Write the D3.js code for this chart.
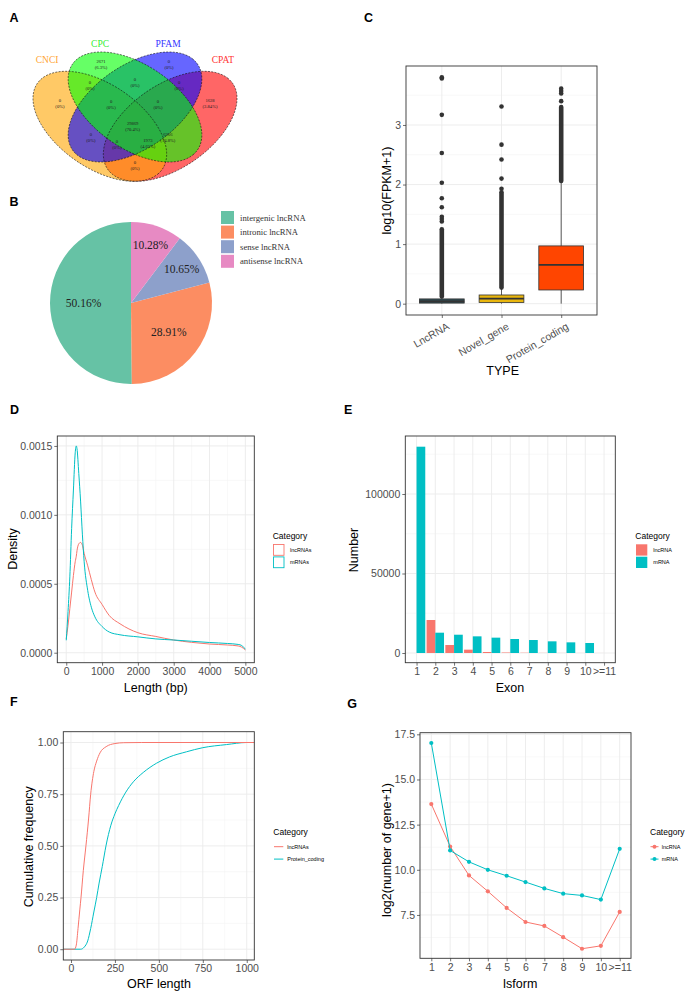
<!DOCTYPE html>
<html><head><meta charset="utf-8">
<script src="https://cdn.jsdelivr.net/npm/d3@7"></script>
<style>body{margin:0;background:#fff}svg{display:block}</style>
</head><body>
<svg id="fig" width="687" height="991"></svg>
<script>
// ================= DATA =================
// A: Venn
const vennSets = ["CNCI", "CPC", "PFAM", "CPAT"];
const vennRegionKeys = ["CPC", "PFAM", "CNCI&CPC", "CPC&PFAM", "PFAM&CPAT", "CNCI", "CNCI&CPC&PFAM", "CPC&PFAM&CPAT", "CPAT", "ALL", "CNCI&PFAM", "CNCI&PFAM&CPAT", "CNCI&CPC&CPAT", "CPC&CPAT", "CNCI&CPAT"];
const vennCounts = [2671, 0, 0, 0, 0, 0, 0, 0, 1628, 29869, 0, 0, 1973, 6266, 0];
const vennPercents = ["6.3%", "0%", "0%", "0%", "0%", "0%", "0%", "0%", "3.84%", "70.4%", "0%", "0%", "4.65%", "14.8%", "0%"];

// B: Pie
const pieCategories = ["intergenic lncRNA", "intronic lncRNA", "sense lncRNA", "antisense lncRNA"];
const pieValues = [50.16, 28.91, 10.65, 10.28];

// C: Boxplot
const boxCategories = ["LncRNA", "Novel_gene", "Protein_coding"];
const boxLowerWhisker = [0, 0, 0];
const boxQ1 = [0.01, 0.02, 0.23];
const boxMedian = [0.04, 0.084, 0.65];
const boxQ3 = [0.08, 0.146, 0.97];
const boxUpperWhisker = [0.12, 0.26, 2.06];
const denseOutlierLow = [0.12, 0.27, 2.06];
const denseOutlierHigh = [1.25, 1.87, 3.30];
const outliersLncRNA = [1.38, 1.42, 1.46, 1.62, 1.77, 2.03, 2.53, 3.17, 3.78, 3.80];
const outliersNovel = [1.93, 2.10, 2.42, 2.67, 3.31];
const outliersProtein = [3.40, 3.53, 3.57, 3.61];

// D: Density of length
const densityLength = [0, 50, 100, 150, 200, 250, 280, 300, 350, 400, 450, 500, 600, 700, 800, 1000, 1200, 1500, 2000, 2500, 3000, 3500, 4000, 4500, 4800, 4900, 5000];
const densityLnc = [0.0001, 0.0002, 0.00032, 0.00044, 0.00056, 0.00066, 0.0007, 0.00074, 0.00079, 0.0008, 0.00078, 0.00072, 0.00063, 0.00053, 0.00044, 0.00035, 0.00027, 0.00021, 0.000145, 0.000118, 0.000092, 0.000075, 0.000063, 0.000056, 0.000049, 0.00004, 0.00002];
const densityMrna = [0.00009, 0.0003, 0.00055, 0.0009, 0.00118, 0.00145, 0.0015, 0.00148, 0.0013, 0.0011, 0.00086, 0.00066, 0.00045, 0.00033, 0.00026, 0.00019, 0.00015, 0.00013, 0.000115, 0.0001, 0.000092, 0.000083, 0.000074, 0.000067, 0.00006, 0.000052, 0.000025];
const densitySeries = ["lncRNAs", "mRNAs"];

// E: Exon numbers
const exonCategories = ["1", "2", "3", "4", "5", "6", "7", "8", "9", "10", ">=11"];
const exonLnc = [0, 20750, 5030, 2100, 630, 300, 150, 60, 30, 20, 10];
const exonMrna = [129750, 12770, 11500, 10480, 9650, 8800, 8170, 7340, 6700, 6290, 0];
const exonSeries = ["lncRNA", "mRNA"];

// F: ECDF of ORF length
const ecdfLncX = [-44, 20, 30, 40, 50, 57, 70, 85, 100, 112, 130, 146, 165, 200, 250, 300, 400, 1043];
const ecdfLncY = [0, 0, 0.02, 0.1, 0.19, 0.25, 0.38, 0.5, 0.63, 0.75, 0.86, 0.91, 0.95, 0.98, 0.995, 0.999, 1, 1];
const ecdfProtX = [-44, 55, 75, 95, 112, 130, 146, 160, 178, 199, 227, 250, 271, 312, 355, 411, 487, 560, 657, 750, 885, 1000, 1043];
const ecdfProtY = [0, 0, 0.01, 0.04, 0.1, 0.18, 0.25, 0.32, 0.4, 0.5, 0.6, 0.655, 0.695, 0.76, 0.81, 0.855, 0.9, 0.93, 0.955, 0.975, 0.99, 1, 1];
const ecdfSeries = ["lncRNAs", "Protein_coding"];

// G: Isoforms
const isoCategories = ["1", "2", "3", "4", "5", "6", "7", "8", "9", "10", ">=11"];
const isoLnc = [13.64, 11.29, 9.69, 8.81, 7.89, 7.11, 6.89, 6.27, 5.63, 5.79, 7.67];
const isoMrna = [17.02, 11.07, 10.44, 10.0, 9.67, 9.32, 8.97, 8.68, 8.58, 8.35, 11.16];
const isoSeries = ["lncRNA", "mRNA"];

// ================= STYLE =================
const svg = d3.select("#fig");
const SANS = "'Liberation Sans', Arial, Helvetica, sans-serif";
const SERIF = "'Liberation Serif', 'Times New Roman', Times, serif";
const GRID_MAJOR = "#EBEBEB", GRID_MINOR = "#F4F4F4", BORDER = "#333333", TICKTXT = "#4D4D4D";
const RED = "#F8766D", TEAL = "#00BFC4";
let clipN = 0;

function label(txt, x, y) {
  svg.append("text").attr("x", x).attr("y", y).text(txt)
    .style("font-family", SANS).style("font-weight", "bold").style("font-size", "12.5px");
}
function title(txt, x, y, rot) {
  const t = svg.append("text").text(txt).attr("text-anchor", "middle")
    .style("font-family", SANS).style("font-size", "12.5px").attr("fill", "#000");
  if (rot) t.attr("transform", `translate(${x},${y}) rotate(-90)`);
  else t.attr("x", x).attr("y", y);
  return t;
}
function makePanel(box, xs, ys, o) {
  const g = svg.append("g");
  g.append("rect").attr("x", box.x0).attr("y", box.y0).attr("width", box.x1 - box.x0).attr("height", box.y1 - box.y0).attr("fill", "#fff");
  const vline = (v, c, w) => g.append("line").attr("x1", xs(v)).attr("x2", xs(v)).attr("y1", box.y0).attr("y2", box.y1).attr("stroke", c).attr("stroke-width", w);
  const hline = (v, c, w) => g.append("line").attr("y1", ys(v)).attr("y2", ys(v)).attr("x1", box.x0).attr("x2", box.x1).attr("stroke", c).attr("stroke-width", w);
  (o.xMinor || []).forEach(v => vline(v, GRID_MINOR, 0.6));
  (o.yMinor || []).forEach(v => hline(v, GRID_MINOR, 0.6));
  (o.xMajor || []).forEach(v => vline(v, GRID_MAJOR, 0.9));
  (o.yMajor || []).forEach(v => hline(v, GRID_MAJOR, 0.9));
  const id = "clip" + (clipN++);
  svg.append("defs").append("clipPath").attr("id", id).append("rect")
    .attr("x", box.x0).attr("y", box.y0).attr("width", box.x1 - box.x0).attr("height", box.y1 - box.y0);
  const content = g.append("g").attr("clip-path", `url(#${id})`);
  return { g, content };
}
function styleAxis(ax) {
  ax.select(".domain").remove();
  ax.selectAll(".tick line").attr("stroke", BORDER).attr("stroke-width", 0.7);
  ax.selectAll(".tick text").attr("fill", TICKTXT).style("font-family", SANS).style("font-size", "10.5px");
}
function finishPanel(g, box, xs, ys, o) {
  g.append("rect").attr("x", box.x0).attr("y", box.y0).attr("width", box.x1 - box.x0).attr("height", box.y1 - box.y0)
    .attr("fill", "none").attr("stroke", BORDER).attr("stroke-width", 0.9);
  const xa = d3.axisBottom(xs).tickSize(3).tickPadding(2);
  if (o.xTicks) xa.tickValues(o.xTicks);
  if (o.xFmt) xa.tickFormat(o.xFmt);
  const ax = g.append("g").attr("transform", `translate(0,${box.y1})`).call(xa);
  styleAxis(ax);
  const ya = d3.axisLeft(ys).tickSize(3).tickPadding(2);
  if (o.yTicks) ya.tickValues(o.yTicks);
  if (o.yFmt) ya.tickFormat(o.yFmt);
  const ay = g.append("g").attr("transform", `translate(${box.x0},0)`).call(ya);
  styleAxis(ay);
  return { ax, ay };
}
function legendTitle(x, y) {
  svg.append("text").attr("x", x).attr("y", y).text("Category")
    .style("font-family", SANS).style("font-size", "8.5px").attr("fill", "#000");
}
function legendLabel(txt, x, y) {
  svg.append("text").attr("x", x).attr("y", y).attr("dy", "0.35em").text(txt)
    .style("font-family", SANS).style("font-size", "5.5px").attr("fill", "#000");
}

// ================= A: VENN =================
label("A", 9.5, 22);
{
  const vx = u => 135 + (u - 0.5) * 234.5;
  const vy = v => 107 - (v - 0.57) * 193;
  const ell = [
    { cx: 0.35, cy: 0.47, rot: -45, color: "orange", txt: "#FFA533", lab: [0.125, 0.813] },
    { cx: 0.5, cy: 0.57, rot: -45, color: "#00FF00", txt: "#33EE33", lab: [0.351, 0.9] },
    { cx: 0.5, cy: 0.57, rot: 45, color: "blue", txt: "#3333FF", lab: [0.641, 0.9] },
    { cx: 0.65, cy: 0.47, rot: 45, color: "red", txt: "#FF3333", lab: [0.875, 0.813] }
  ];
  const ellPts = e => {
    const pts = [], r = e.rot * Math.PI / 180;
    for (let i = 0; i <= 160; i++) {
      const t = i / 160 * 2 * Math.PI, ex = 0.35 * Math.cos(t), ey = 0.2 * Math.sin(t);
      pts.push([vx(e.cx + ex * Math.cos(r) - ey * Math.sin(r)), vy(e.cy + ex * Math.sin(r) + ey * Math.cos(r))]);
    }
    return pts;
  };
  const line = d3.line();
  const gA = svg.append("g");
  [3, 0, 2, 1].forEach(i => gA.append("path").attr("d", line(ellPts(ell[i])) + "Z")
    .attr("fill", ell[i].color).attr("fill-opacity", 0.6).attr("stroke", "none"));
  ell.forEach(e => gA.append("path").attr("d", line(ellPts(e)) + "Z")
    .attr("fill", "none").attr("stroke", "#111").attr("stroke-width", 0.6).attr("stroke-dasharray", "2,1.3"));
  ell.forEach((e, i) => gA.append("text").attr("x", vx(e.lab[0])).attr("y", vy(e.lab[1])).attr("dy", "0.35em")
    .attr("text-anchor", "middle").text(vennSets[i]).attr("fill", e.txt)
    .style("font-family", SERIF).style("font-size", "9.5px"));
  const regionPos = {
    "CPC": [0.355, 0.793], "PFAM": [0.645, 0.793], "CNCI&CPC": [0.308, 0.684], "CPC&PFAM": [0.5, 0.70],
    "PFAM&CPAT": [0.688, 0.684], "CNCI": [0.18, 0.59], "CNCI&CPC&PFAM": [0.398, 0.586], "CPC&PFAM&CPAT": [0.598, 0.586],
    "CPAT": [0.82, 0.59], "ALL": [0.49, 0.47], "CNCI&PFAM": [0.312, 0.415], "CNCI&PFAM&CPAT": [0.423, 0.378],
    "CNCI&CPC&CPAT": [0.555, 0.383], "CPC&CPAT": [0.64, 0.415], "CNCI&CPAT": [0.5, 0.27]
  };
  vennRegionKeys.forEach((k, i) => {
    const p = regionPos[k];
    const t = gA.append("text").attr("text-anchor", "middle").style("font-family", SERIF).style("font-size", "4.6px").attr("fill", "#222");
    t.append("tspan").attr("x", vx(p[0])).attr("y", vy(p[1]) - 1.2).text(vennCounts[i]);
    t.append("tspan").attr("x", vx(p[0])).attr("y", vy(p[1]) + 4.8).text("(" + vennPercents[i] + ")");
  });
}

// ================= B: PIE =================
label("B", 9.5, 205.5);
{
  const pieColors = ["#66C2A5", "#FC8D62", "#8DA0CB", "#E78AC3"];
  const cx = 131, cy = 303, R = 81;
  const g = svg.append("g").attr("transform", `translate(${cx},${cy})`);
  const arcs = d3.pie().sort(null).startAngle(0).endAngle(-2 * Math.PI)(pieValues);
  const arc = d3.arc().innerRadius(0).outerRadius(R);
  g.selectAll("path").data(arcs).join("path").attr("d", arc).attr("fill", (d, i) => pieColors[i]);
  arcs.forEach((a, i) => {
    const lr = a.data > 20 ? 47.5 : 61;
    const c = d3.arc().innerRadius(lr).outerRadius(lr).centroid(a);
    g.append("text").attr("x", c[0]).attr("y", c[1]).attr("dy", "0.35em").attr("text-anchor", "middle")
      .text(pieValues[i].toFixed(2) + "%").style("font-family", SERIF).style("font-size", "11.5px").attr("fill", "#222");
  });
  pieCategories.forEach((c, i) => {
    const y = 211 + i * 14.6;
    svg.append("rect").attr("x", 221).attr("y", y).attr("width", 13).attr("height", 13).attr("fill", pieColors[i]);
    svg.append("text").attr("x", 240).attr("y", y + 6.5).attr("dy", "0.35em").text(c)
      .style("font-family", SERIF).style("font-size", "8.7px").attr("fill", "#333");
  });
}

// ================= C: BOXPLOT =================
label("C", 364, 21.7);
{
  const box = { x0: 406, y0: 66, x1: 597, y1: 315 };
  const xs = d3.scalePoint().domain(boxCategories).range([box.x0, box.x1]).padding(0.6);
  const ys = d3.scaleLinear().domain([-0.19, 3.99]).range([box.y1, box.y0]);
  const { g, content } = makePanel(box, xs, ys, { xMajor: boxCategories, yMajor: [0, 1, 2, 3], yMinor: [0.5, 1.5, 2.5, 3.5] });
  const fills = ["#2F4B52", "#E9B60E", "#FF4500"];
  const bw = xs.step() * 0.75;
  const outl = [outliersLncRNA, outliersNovel, outliersProtein];
  boxCategories.forEach((c, i) => {
    const x = xs(c);
    content.append("line").attr("x1", x).attr("x2", x).attr("y1", ys(boxUpperWhisker[i])).attr("y2", ys(boxQ3[i])).attr("stroke", BORDER).attr("stroke-width", 0.8);
    content.append("line").attr("x1", x).attr("x2", x).attr("y1", ys(boxLowerWhisker[i])).attr("y2", ys(boxQ1[i])).attr("stroke", BORDER).attr("stroke-width", 0.8);
    content.append("line").attr("x1", x).attr("x2", x).attr("y1", ys(denseOutlierLow[i])).attr("y2", ys(denseOutlierHigh[i]))
      .attr("stroke", "#333").attr("stroke-width", 4.6).attr("stroke-linecap", "round");
    outl[i].forEach(v => content.append("circle").attr("cx", x).attr("cy", ys(v)).attr("r", 2.3).attr("fill", "#333"));
    content.append("rect").attr("x", x - bw / 2).attr("width", bw).attr("y", ys(boxQ3[i])).attr("height", Math.max(ys(boxQ1[i]) - ys(boxQ3[i]), 1))
      .attr("fill", fills[i]).attr("stroke", BORDER).attr("stroke-width", 0.8);
    content.append("line").attr("x1", x - bw / 2).attr("x2", x + bw / 2).attr("y1", ys(boxMedian[i])).attr("y2", ys(boxMedian[i]))
      .attr("stroke", BORDER).attr("stroke-width", 1.7);
  });
  const { ax } = finishPanel(g, box, xs, ys, { yTicks: [0, 1, 2, 3], yFmt: d3.format("d") });
  ax.selectAll(".tick text").attr("x", 0).attr("y", 0).attr("dy", "0.71em").attr("text-anchor", "end")
    .attr("transform", "translate(4,7) rotate(-30)");
  title("log10(FPKM+1)", 390.5, 190.5, true);
  title("TYPE", 502.7, 374.5);
}

// ================= D: DENSITY =================
label("D", 10, 414);
{
  const box = { x0: 57.3, y0: 436, x1: 254.3, y1: 662.7 };
  const xs = d3.scaleLinear().domain([-250, 5250]).range([box.x0, box.x1]);
  const ys = d3.scaleLinear().domain([-0.0000725, 0.001572]).range([box.y1, box.y0]);
  const { g, content } = makePanel(box, xs, ys, {
    xMajor: [0, 1000, 2000, 3000, 4000, 5000], xMinor: [500, 1500, 2500, 3500, 4500],
    yMajor: [0, 0.0005, 0.001, 0.0015], yMinor: [0.00025, 0.00075, 0.00125]
  });
  const ln = arr => d3.line().x((d, i) => xs(densityLength[i])).y((d, i) => ys(arr[i])).curve(d3.curveMonotoneX)(arr);
  content.append("path").attr("d", ln(densityLnc)).attr("fill", "none").attr("stroke", RED).attr("stroke-width", 1);
  content.append("path").attr("d", ln(densityMrna)).attr("fill", "none").attr("stroke", TEAL).attr("stroke-width", 1);
  finishPanel(g, box, xs, ys, { xTicks: [0, 1000, 2000, 3000, 4000, 5000], xFmt: d3.format("d"), yTicks: [0, 0.0005, 0.001, 0.0015], yFmt: d3.format(".4f") });
  title("Density", 16.5, 549, true);
  title("Length (bp)", 155.8, 691.5);
  legendTitle(272.7, 538.5);
  [RED, TEAL].forEach((c, i) => {
    svg.append("rect").attr("x", 273.5).attr("y", 544.5 + i * 12.4).attr("width", 10.5).attr("height", 10.8)
      .attr("fill", "#fff").attr("stroke", c).attr("stroke-width", 0.9);
    legendLabel(densitySeries[i], 290, 550 + i * 12.4);
  });
}

// ================= E: EXON BARS =================
label("E", 344, 414);
{
  const box = { x0: 405.3, y0: 436, x1: 615.3, y1: 662.7 };
  const xs = d3.scalePoint().domain(exonCategories).range([box.x0, box.x1]).padding(0.6);
  const ys = d3.scaleLinear().domain([-6100, 136480]).range([box.y1, box.y0]);
  const { g, content } = makePanel(box, xs, ys, { xMajor: exonCategories, yMajor: [0, 50000, 100000], yMinor: [25000, 75000, 125000] });
  const w = xs.step() * 0.465;
  exonCategories.forEach((c, i) => {
    content.append("rect").attr("x", xs(c) - w).attr("width", w).attr("y", ys(exonLnc[i])).attr("height", ys(0) - ys(exonLnc[i])).attr("fill", RED);
    content.append("rect").attr("x", xs(c)).attr("width", w).attr("y", ys(exonMrna[i])).attr("height", ys(0) - ys(exonMrna[i])).attr("fill", TEAL);
  });
  finishPanel(g, box, xs, ys, { yTicks: [0, 50000, 100000], yFmt: d3.format("d") });
  title("Number", 357.5, 550, true);
  title("Exon", 510, 691.5);
  legendTitle(635.3, 538.5);
  [RED, TEAL].forEach((c, i) => {
    svg.append("rect").attr("x", 636).attr("y", 544.3 + i * 12.4).attr("width", 11.3).attr("height", 11.3).attr("fill", c);
    legendLabel(exonSeries[i], 653.3, 550 + i * 12.4);
  });
}

// ================= F: ECDF =================
label("F", 10, 706);
{
  const box = { x0: 63.3, y0: 731.7, x1: 254.3, y1: 960 };
  const xs = d3.scaleLinear().domain([-43.8, 1043]).range([box.x0, box.x1]);
  const ys = d3.scaleLinear().domain([-0.0522, 1.0523]).range([box.y1, box.y0]);
  const { g, content } = makePanel(box, xs, ys, {
    xMajor: [0, 250, 500, 750, 1000], xMinor: [125, 375, 625, 875],
    yMajor: [0, 0.25, 0.5, 0.75, 1], yMinor: [0.125, 0.375, 0.625, 0.875]
  });
  const ln = (X, Y) => d3.line().x((d, i) => xs(X[i])).y((d, i) => ys(Y[i])).curve(d3.curveMonotoneX)(Y);
  content.append("path").attr("d", ln(ecdfProtX, ecdfProtY)).attr("fill", "none").attr("stroke", TEAL).attr("stroke-width", 1);
  content.append("path").attr("d", ln(ecdfLncX, ecdfLncY)).attr("fill", "none").attr("stroke", RED).attr("stroke-width", 1);
  finishPanel(g, box, xs, ys, { xTicks: [0, 250, 500, 750, 1000], xFmt: d3.format("d"), yTicks: [0, 0.25, 0.5, 0.75, 1], yFmt: d3.format(".2f") });
  title("Cumulative frequency", 32.5, 846.7, true);
  title("ORF length", 159, 987.5);
  legendTitle(273.3, 835);
  [RED, TEAL].forEach((c, i) => {
    svg.append("line").attr("x1", 274).attr("x2", 283.3).attr("y1", 846.7 + i * 12.4).attr("y2", 846.7 + i * 12.4).attr("stroke", c).attr("stroke-width", 1);
    legendLabel(ecdfSeries[i], 287.3, 846.7 + i * 12.4);
  });
}

// ================= G: ISOFORMS =================
label("G", 347.3, 707.7);
{
  const box = { x0: 420, y0: 732.7, x1: 631, y1: 958.3 };
  const xs = d3.scalePoint().domain(isoCategories).range([box.x0, box.x1]).padding(0.6);
  const ys = d3.scaleLinear().domain([5.10, 17.59]).range([box.y1, box.y0]);
  const { g, content } = makePanel(box, xs, ys, {
    xMajor: isoCategories, yMajor: [7.5, 10, 12.5, 15, 17.5], yMinor: [6.25, 8.75, 11.25, 13.75, 16.25]
  });
  const series = [[isoLnc, RED], [isoMrna, TEAL]];
  series.forEach(([arr, c]) => {
    content.append("path").attr("d", d3.line().x((d, i) => xs(isoCategories[i])).y(d => ys(d))(arr))
      .attr("fill", "none").attr("stroke", c).attr("stroke-width", 1);
    arr.forEach((v, i) => content.append("circle").attr("cx", xs(isoCategories[i])).attr("cy", ys(v)).attr("r", 2.1).attr("fill", c));
  });
  finishPanel(g, box, xs, ys, { yTicks: [7.5, 10, 12.5, 15, 17.5], yFmt: d3.format(".1f") });
  title("log2(number of gene+1)", 390.5, 850, true);
  title("Isform", 520, 987.5);
  legendTitle(650, 835);
  [RED, TEAL].forEach((c, i) => {
    const y = 846.7 + i * 12.4;
    svg.append("line").attr("x1", 650.5).attr("x2", 658.5).attr("y1", y).attr("y2", y).attr("stroke", c).attr("stroke-width", 1);
    svg.append("circle").attr("cx", 654.5).attr("cy", y).attr("r", 2).attr("fill", c);
    legendLabel(isoSeries[i], 661.7, y);
  });
}
</script>
</body></html>
